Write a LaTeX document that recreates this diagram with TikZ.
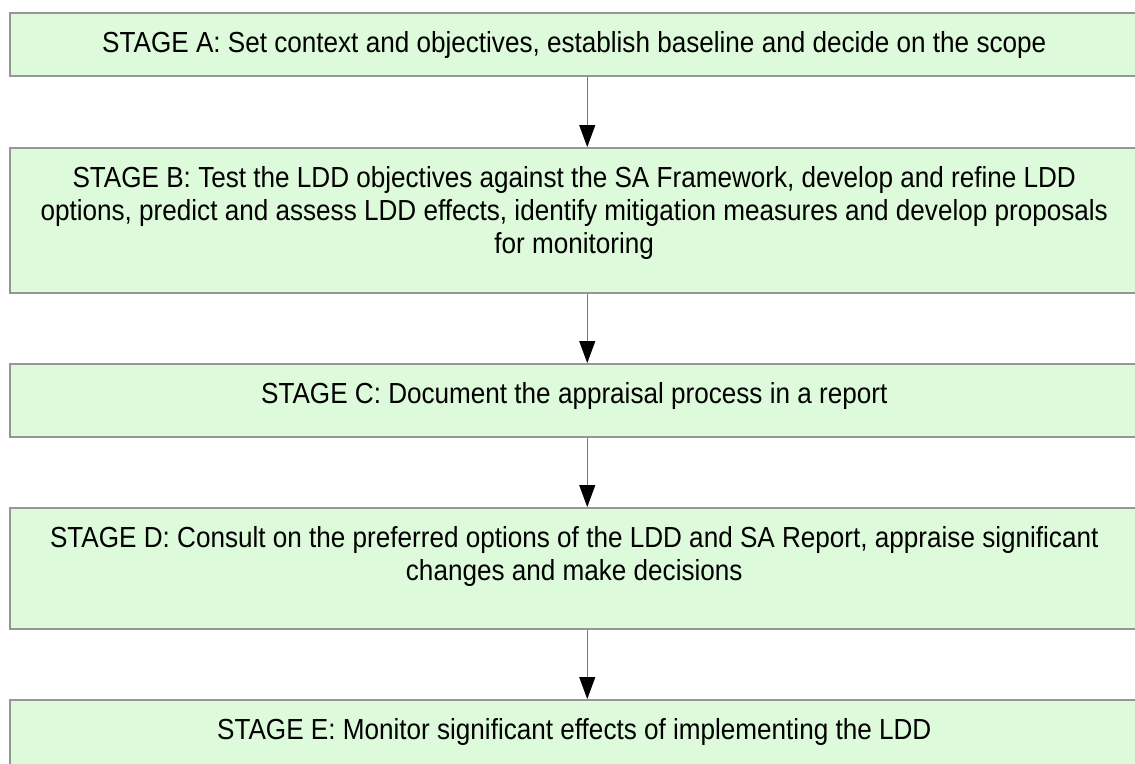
\documentclass[tikz,border=0pt]{standalone}
\usepackage{fontspec}
\setmainfont{Liberation Sans}[FakeStretch=0.9]
\usetikzlibrary{arrows.meta}
\definecolor{boxfill}{RGB}{221,250,218}
\definecolor{boxline}{RGB}{150,150,150}
\definecolor{arrline}{RGB}{120,120,120}
\newcommand{\stagetext}[2]{\parbox[c][#1][t]{1110pt}{\centering\vspace*{18.5pt}#2\par}}
\tikzset{
  stagebox/.style={draw=boxline, line width=1.5pt, fill=boxfill, rectangle,
    anchor=north west, inner sep=0pt, minimum width=1129pt,
    font=\fontsize{29pt}{33pt}\selectfont},
  flowarr/.style={draw=arrline, line width=1pt,
    -{Triangle[length=22pt,width=16pt,color=black,fill=black]}}
}
\begin{document}
\begin{tikzpicture}[x=1pt,y=1pt]
\useasboundingbox[fill=white] (0,0) rectangle (1135,-763);
\node[stagebox, minimum height=63pt] (a) at (9,-12)
  {\stagetext{63pt}{STAGE A: Set context and objectives, establish baseline and decide on the scope}};
\node[stagebox, minimum height=145pt] (b) at (9,-147)
  {\stagetext{145pt}{STAGE B: Test the LDD objectives against the SA Framework, develop and refine LDD\\
  options, predict and assess LDD effects, identify mitigation measures and develop proposals\\
  for monitoring}};
\node[stagebox, minimum height=73pt] (c) at (9,-363)
  {\stagetext{73pt}{STAGE C: Document the appraisal process in a report}};
\node[stagebox, minimum height=121pt] (d) at (9,-507)
  {\stagetext{121pt}{STAGE D: Consult on the preferred options of the LDD and SA Report, appraise significant\\
  changes and make decisions}};
\node[stagebox, minimum height=80pt] (e) at (9,-699)
  {\stagetext{80pt}{STAGE E: Monitor significant effects of implementing the LDD}};
\draw[flowarr] ([xshift=13pt]a.south) -- ([xshift=13pt]b.north);
\draw[flowarr] ([xshift=13pt]b.south) -- ([xshift=13pt]c.north);
\draw[flowarr] ([xshift=13pt]c.south) -- ([xshift=13pt]d.north);
\draw[flowarr] ([xshift=13pt]d.south) -- ([xshift=13pt]e.north);
\end{tikzpicture}
\end{document}
